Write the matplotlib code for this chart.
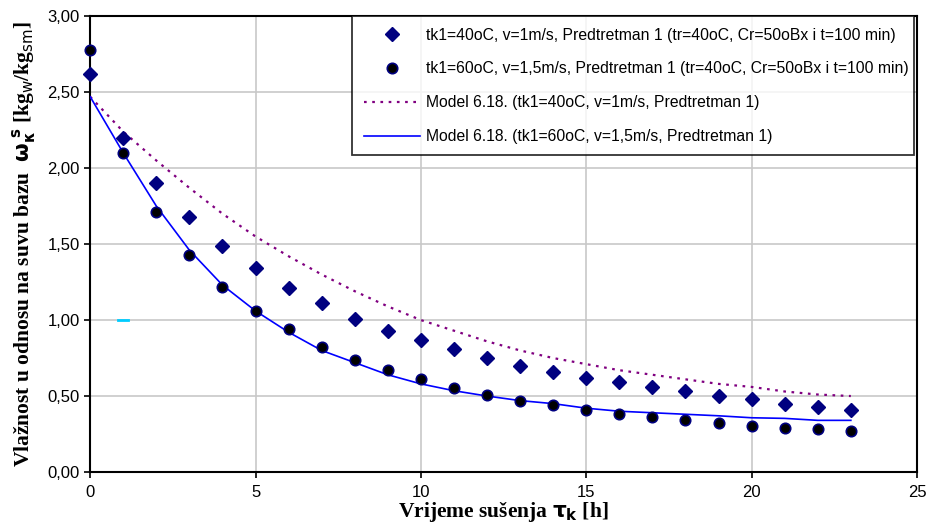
import numpy as np
import matplotlib
matplotlib.use("Agg")
import matplotlib.pyplot as plt

# vrijeme susenja [h]
t = np.arange(0, 24)

# eksperimentalni podaci
exp_40 = [2.62, 2.20, 1.90, 1.68, 1.49, 1.34, 1.21, 1.11, 1.01, 0.93, 0.87, 0.81,
          0.75, 0.70, 0.66, 0.62, 0.59, 0.56, 0.53, 0.50, 0.48, 0.45, 0.43, 0.41]
exp_60 = [2.78, 2.10, 1.71, 1.43, 1.22, 1.06, 0.94, 0.82, 0.74, 0.67, 0.61, 0.55,
          0.51, 0.47, 0.44, 0.41, 0.38, 0.36, 0.34, 0.32, 0.30, 0.29, 0.28, 0.27]

# model 6.18
model_40 = [2.47, 2.24, 2.05, 1.87, 1.70, 1.55, 1.42, 1.30, 1.19, 1.09, 1.00, 0.93,
            0.86, 0.80, 0.75, 0.71, 0.67, 0.64, 0.61, 0.58, 0.56, 0.53, 0.51, 0.50]
model_60 = [2.47, 2.10, 1.75, 1.46, 1.23, 1.06, 0.92, 0.80, 0.72, 0.64, 0.58, 0.535,
            0.50, 0.47, 0.45, 0.42, 0.40, 0.39, 0.38, 0.37, 0.357, 0.353, 0.34, 0.34]

# mala cijan crtica na grafiku
stray_x = [0.85, 1.15]
stray_y = [1.00, 1.00]

labels = ["tk1=40oC, v=1m/s, Predtretman 1 (tr=40oC, Cr=50oBx i t=100 min)",
          "tk1=60oC, v=1,5m/s, Predtretman 1 (tr=40oC, Cr=50oBx i t=100 min)",
          "Model 6.18. (tk1=40oC, v=1m/s, Predtretman 1)",
          "Model 6.18. (tk1=60oC, v=1,5m/s, Predtretman 1)"]

plt.rcParams['font.family'] = ['Liberation Sans', 'DejaVu Sans']

fig = plt.figure(figsize=(9.3, 5.23), dpi=100)
ax = fig.add_axes([0.097, 0.0975, 0.889, 0.8715])

ax.plot(t, exp_40, linestyle='none', marker='D', markersize=7, color='#000080',
        label=labels[0], clip_on=False, zorder=4)
ax.plot(t, exp_60, linestyle='none', marker='o', markersize=7.5, markerfacecolor='black',
        markeredgecolor='#000080', markeredgewidth=1.2, label=labels[1], clip_on=False, zorder=4)
ax.plot(t, model_40, linestyle=(0, (1.2, 2.5)), linewidth=1.6, color='#800080', label=labels[2], zorder=3)
ax.plot(t, model_60, linestyle='-', linewidth=1.2, color='#0000FF', label=labels[3], zorder=3)
ax.plot(stray_x, stray_y, color='#00CCFF', linewidth=2, zorder=3)

ax.set_xlim(0, 25)
ax.set_ylim(0, 3)
ax.set_xticks(np.arange(0, 26, 5))
ax.set_yticks(np.arange(0, 3.01, 0.5))
ax.set_yticklabels([f"{v:.2f}".replace('.', ',') for v in np.arange(0, 3.01, 0.5)])
ax.tick_params(axis='both', labelsize=12, direction='out', length=4, width=1.2, color='black')
ax.tick_params(axis='x', pad=5)
ax.grid(True, color='#c8c8c8', linewidth=1.2)
ax.set_axisbelow(True)
for s in ax.spines.values():
    s.set_linewidth(1.5)
    s.set_color('black')

ax.set_xlabel(r"Vrijeme sušenja $\mathbf{\tau_k}$ [h]", fontsize=15.5, fontweight='bold',
              family='Liberation Serif', labelpad=0)
ax.set_ylabel(r"Vlažnost u odnosu na suvu bazu  $\mathbf{\omega_\kappa^{\ s}}$ [kg$_{\mathrm{w}}$/kg$_{\mathrm{sm}}$]",
              fontsize=15.5, fontweight='bold', family='Liberation Serif', labelpad=7)

leg = ax.legend(loc='upper left', bbox_to_anchor=(0.317, 0.0, 0.68, 1.0), mode='expand',
                fontsize=11.3, frameon=True, fancybox=False, edgecolor='black',
                borderpad=0.72, labelspacing=1.2, handlelength=3.6, handletextpad=0.4,
                borderaxespad=0)
leg.get_frame().set_linewidth(1.3)

fig.savefig("out.png", dpi=100)
